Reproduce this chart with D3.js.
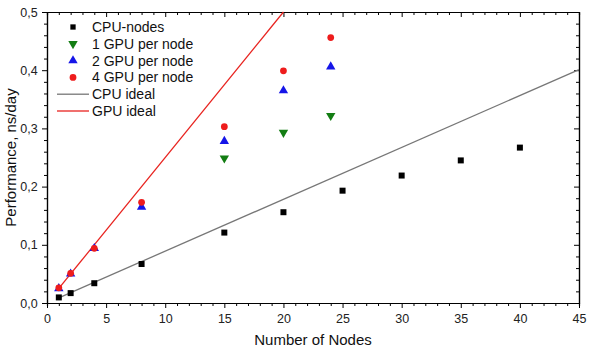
<!DOCTYPE html>
<html>
<head>
<meta charset="utf-8">
<script src="https://cdn.jsdelivr.net/npm/d3@7"></script>
<style>
  body { margin: 0; background: #fff; }
  svg { font-family: "Liberation Sans", Arial, sans-serif; }
</style>
</head>
<body>
<svg id="chart" width="589" height="350"></svg>
<script>
// data
const cpuNodes = [1, 2, 4, 8, 15, 20, 25, 30, 35, 40];
const cpuPerf = [0.0096, 0.017, 0.034, 0.067, 0.121, 0.156, 0.193, 0.219, 0.245, 0.267];

const gpu1Nodes = [15, 20, 24];
const gpu1Perf = [0.249, 0.293, 0.322];
const gpuNodes = [1, 2, 4, 8, 15, 20, 24];
const gpu2Perf = [0.025, 0.05, 0.094, 0.165, 0.278, 0.365, 0.406];
const gpu4Perf = [0.026, 0.051, 0.094, 0.173, 0.303, 0.399, 0.456];

const cpuIdealX = [1, 45];
const cpuIdealY = [0.0089, 0.401];
const gpuIdealX = [1, 20];
const gpuIdealY = [0.025, 0.5];

const xTicks = [0, 5, 10, 15, 20, 25, 30, 35, 40, 45];
const yTicks = [0, 0.1, 0.2, 0.3, 0.4, 0.5];

const svg = d3.select("#chart");
const margin = {left: 47, right: 10, top: 12, bottom: 47};
const W = 589, H = 350;

const x = d3.scaleLinear().domain([0, 45]).range([margin.left, W - margin.right]);
const y = d3.scaleLinear().domain([0, 0.5]).range([H - margin.bottom, margin.top]);

const fmt = d => d3.format(".1f")(d).replace(".", ",");

// axes: bottom/left out, top/right mirrored inward
const xMinor = d3.range(0, 46, 1).filter(v => v % 5);
const yMinor = d3.range(0, 0.501, 0.02).filter((v, i) => i % 5);

const gx = svg.append("g").attr("transform", `translate(0,${y(0)})`)
    .call(d3.axisBottom(x).tickValues(xTicks).tickSize(5).tickSizeOuter(0));
const gxm = svg.append("g").attr("transform", `translate(0,${y(0)})`)
    .call(d3.axisBottom(x).tickValues(xMinor).tickSize(3).tickFormat(""));
const gt = svg.append("g").attr("transform", `translate(0,${y(0.5)})`)
    .call(d3.axisBottom(x).tickValues(xTicks).tickSize(5).tickSizeOuter(0).tickFormat(""));
const gtm = svg.append("g").attr("transform", `translate(0,${y(0.5)})`)
    .call(d3.axisBottom(x).tickValues(xMinor).tickSize(3).tickFormat(""));

const gy = svg.append("g").attr("transform", `translate(${x(0)},0)`)
    .call(d3.axisLeft(y).tickValues(yTicks).tickSize(5).tickSizeOuter(0).tickFormat(fmt));
const gym = svg.append("g").attr("transform", `translate(${x(0)},0)`)
    .call(d3.axisLeft(y).tickValues(yMinor).tickSize(3).tickFormat(""));
const gr = svg.append("g").attr("transform", `translate(${x(45)},0)`)
    .call(d3.axisLeft(y).tickValues(yTicks).tickSize(5).tickSizeOuter(0).tickFormat(""));
const grm = svg.append("g").attr("transform", `translate(${x(45)},0)`)
    .call(d3.axisLeft(y).tickValues(yMinor).tickSize(3).tickFormat(""));

[gx, gxm, gt, gtm, gy, gym, gr, grm].forEach(g => {
    g.selectAll("path").attr("stroke", "#000").attr("stroke-width", 1.2);
    g.selectAll("line").attr("stroke", "#000").attr("stroke-width", 1);
    g.selectAll("text").attr("font-size", 12.5).attr("fill", "#222")
        .attr("font-family", "Liberation Sans, Arial, sans-serif");
});
gx.selectAll("text").attr("dy", "0.95em");
gy.selectAll("text").attr("dx", "-0.1em");

// axis titles
svg.append("text").attr("x", 313).attr("y", 345).attr("text-anchor", "middle")
    .attr("font-size", 15).attr("fill", "#111").text("Number of Nodes");
svg.append("text").attr("transform", `translate(16,${y(0.25)}) rotate(-90)`)
    .attr("text-anchor", "middle").attr("font-size", 15).attr("fill", "#111")
    .text("Performance, ns/day");

// ideal lines
const line = d3.line().x(d => x(d[0])).y(d => y(d[1]));
svg.append("path").datum(d3.zip(cpuIdealX, cpuIdealY))
    .attr("d", line).attr("fill", "none").attr("stroke", "#777").attr("stroke-width", 1.3);
svg.append("path").datum(d3.zip(gpuIdealX, gpuIdealY))
    .attr("d", line).attr("fill", "none").attr("stroke", "#e8231f").attr("stroke-width", 1.3);

// markers
const sym = {
    square: d3.symbol().type(d3.symbolSquare).size(36),
    down: d3.symbol().type(d3.symbolTriangle).size(38),
    up: d3.symbol().type(d3.symbolTriangle).size(38),
    circle: d3.symbol().type(d3.symbolCircle).size(36)
};

const series = [
    {name: "1 GPU per node", xs: gpu1Nodes, ys: gpu1Perf, color: "#137d13", shape: "down"},
    {name: "2 GPU per node", xs: gpuNodes, ys: gpu2Perf, color: "#1515e8", shape: "up"},
    {name: "4 GPU per node", xs: gpuNodes, ys: gpu4Perf, color: "#ee1c1c", shape: "circle"}
];

function mark(g, s, cx, cy) {
    g.append("path")
        .attr("d", sym[s.shape]())
        .attr("fill", s.color)
        .attr("transform", `translate(${cx},${cy})` + (s.shape === "down" ? " rotate(180)" : ""));
}

svg.append("g").selectAll("path")
    .data(d3.zip(cpuNodes, cpuPerf))
    .join("path")
    .attr("d", sym.square())
    .attr("fill", "#000")
    .attr("transform", d => `translate(${x(d[0])},${y(d[1])})`);

series.forEach(s => {
    const g = svg.append("g");
    s.xs.forEach((v, i) => mark(g, s, x(v), y(s.ys[i])));
});

// legend
const lg = svg.append("g");
const rows = [
    {name: "CPU-nodes", color: "#000", shape: "square"},
    ...series,
    {name: "CPU ideal", color: "#777", line: true},
    {name: "GPU ideal", color: "#e8231f", line: true}
];
rows.forEach((r, i) => {
    const ry = 27 + i * 16.8;
    if (r.line) {
        lg.append("line").attr("x1", 57).attr("x2", 89).attr("y1", ry).attr("y2", ry)
            .attr("stroke", r.color).attr("stroke-width", 1.3);
    } else if (r.shape === "square") {
        lg.append("path").attr("d", d3.symbol().type(d3.symbolSquare).size(28)())
            .attr("fill", r.color).attr("transform", `translate(73,${ry})`);
    } else {
        mark(lg, r, 73, ry);
    }
    lg.append("text").attr("x", 92).attr("y", ry).attr("dy", "0.36em")
        .attr("font-size", 14).attr("fill", "#111").text(r.name);
});
</script>
</body>
</html>
